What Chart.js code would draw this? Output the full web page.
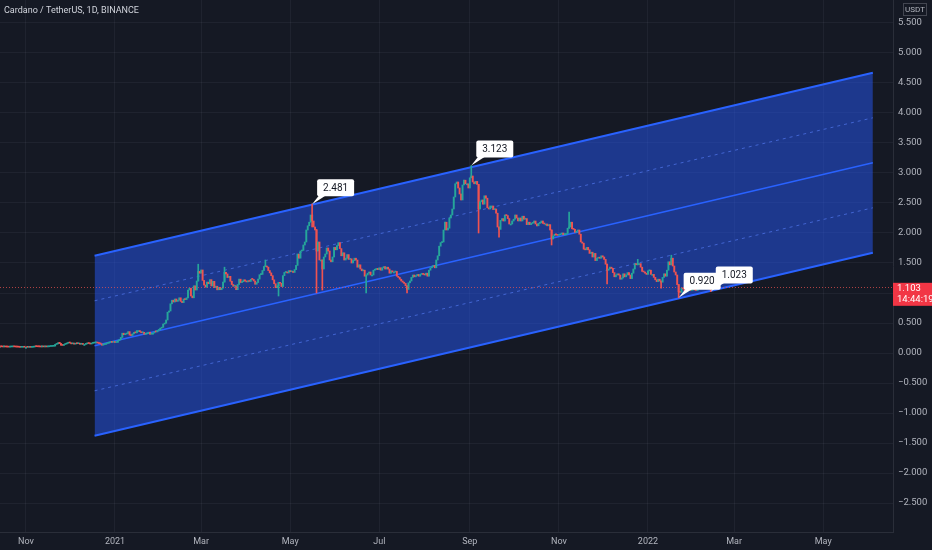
<!DOCTYPE html>
<html>
<head>
<meta charset="utf-8">
<script src="https://cdn.jsdelivr.net/npm/chart.js@4.4.0/dist/chart.umd.min.js"></script>
<style>
  html, body { margin: 0; padding: 0; background: #151924; }
</style>
</head>
<body>
<canvas id="chart" width="932" height="550"></canvas>
<script>
// days are counted from Jan 1 2021; first candle is Oct 14 2020
const startDay = -79;

// daily closes, ADA/USDT
const closes = [
  // Oct 2020 (from 14th)
  0.105,0.104,0.101,0.102,0.101,0.100,0.098,0.101,0.102,0.104,0.103,0.100,0.099,0.097,0.095,0.096,0.097,0.096,
  // Nov 2020
  0.096,0.095,0.097,0.094,0.096,0.100,0.107,0.106,0.104,0.103,0.101,0.104,0.102,0.104,0.102,0.104,0.109,0.110,0.112,0.115,
  0.143,0.152,0.171,0.160,0.129,0.126,0.142,0.151,0.162,0.168,
  // Dec 2020
  0.167,0.153,0.155,0.148,0.157,0.155,0.157,0.146,0.149,0.143,0.143,0.152,0.159,0.158,0.150,0.162,0.166,0.168,0.170,0.166,
  0.158,0.152,0.130,0.141,0.144,0.160,0.164,0.176,0.182,0.178,0.181,
  // Jan 2021
  0.175,0.178,0.206,0.224,0.259,0.330,0.305,0.316,0.323,0.356,0.298,0.291,0.320,0.344,0.336,0.374,0.374,0.354,0.338,0.345,
  0.311,0.319,0.326,0.347,0.312,0.314,0.334,0.354,0.351,0.376,0.386,
  // Feb 2021
  0.414,0.427,0.482,0.496,0.550,0.680,0.700,0.820,0.880,0.850,0.900,0.860,0.880,0.920,0.860,0.840,0.900,0.890,0.920,1.050,
  1.080,0.950,0.920,1.120,1.050,1.200,1.360,1.330,
  // Mar 2021
  1.384,1.210,1.133,1.098,1.181,1.154,1.223,1.118,1.195,1.090,1.113,1.053,1.095,1.055,1.081,1.183,1.345,1.318,1.258,1.278,
  1.196,1.141,1.112,1.120,1.055,1.142,1.231,1.175,1.188,1.220,1.200,
  // Apr 2021
  1.185,1.203,1.193,1.229,1.227,1.200,1.146,1.175,1.232,1.305,1.310,1.375,1.442,1.445,1.432,1.374,1.335,1.289,1.219,1.154,
  1.088,1.120,1.174,1.163,1.108,1.289,1.342,1.344,1.334,1.373,
  // May 2021
  1.354,1.360,1.343,1.390,1.460,1.650,1.580,1.700,1.710,1.800,1.850,2.050,2.120,2.180,2.300,2.200,2.100,2.050,1.700,1.850,
  1.550,1.550,1.400,1.600,1.650,1.750,1.700,1.550,1.520,1.600,1.760,
  // Jun 2021
  1.72,1.79,1.84,1.74,1.62,1.67,1.55,1.58,1.64,1.56,1.57,1.50,1.54,1.58,1.55,1.43,1.47,1.40,1.37,1.38,
  1.28,1.30,1.33,1.35,1.30,1.30,1.38,1.39,1.41,1.39,
  // Jul 2021
  1.42,1.38,1.42,1.44,1.40,1.43,1.40,1.33,1.37,1.35,1.35,1.36,1.28,1.26,1.23,1.20,1.18,1.16,1.12,1.06,
  1.17,1.20,1.26,1.30,1.27,1.29,1.31,1.28,1.31,1.32,1.31,
  // Aug 2021
  1.30,1.33,1.28,1.38,1.42,1.44,1.46,1.42,1.55,1.62,1.78,1.84,1.85,2.05,2.18,2.05,2.08,2.25,2.30,2.40,
  2.60,2.82,2.85,2.75,2.65,2.55,2.80,2.88,2.82,2.82,2.75,
  // Sep 2021
  2.92,2.95,2.85,2.82,2.86,2.81,2.40,2.52,2.55,2.48,2.62,2.58,2.42,2.40,2.45,2.45,2.39,2.40,2.33,2.10,
  2.06,2.21,2.24,2.20,2.30,2.29,2.24,2.15,2.15,2.20,
  // Oct 2021
  2.23,2.30,2.25,2.20,2.25,2.20,2.28,2.23,2.24,2.14,2.18,2.14,2.16,2.17,2.20,2.15,2.12,2.16,2.17,2.20,
  2.16,2.15,2.15,2.12,2.14,2.05,1.90,1.95,1.98,1.97,1.96,
  // Nov 2021
  1.97,1.98,2.00,1.97,1.99,1.99,2.08,2.10,2.18,2.07,2.06,2.01,2.03,2.05,1.98,1.85,1.83,1.73,1.72,1.76,
  1.72,1.66,1.68,1.60,1.66,1.54,1.58,1.59,1.58,1.62,
  // Dec 2021
  1.60,1.56,1.48,1.38,1.40,1.43,1.41,1.34,1.27,1.30,1.32,1.30,1.23,1.25,1.32,1.27,1.30,1.34,1.30,1.24,
  1.33,1.40,1.49,1.47,1.49,1.49,1.43,1.36,1.35,1.33,1.31,
  // Jan 2022
  1.37,1.38,1.31,1.31,1.26,1.22,1.19,1.23,1.20,1.18,1.26,1.32,1.28,1.38,1.52,1.47,1.58,1.45,1.35,1.30,
  1.14,1.02,1.01,1.08,1.07,1.04,1.02,1.06,1.05,1.04,1.05,
  // Feb 2022 (to 14th)
  1.06,1.05,1.04,1.09,1.12,1.14,1.15,1.12,1.13,1.11,1.08,1.07,1.06,1.103
];

// notable wicks (null = body edge)
const wickDays  = [-38,  57,   75,   103,  112,  135,   138,  142,  172,  200,  244,   249,  263,  299,  311,  337,  358,  374,  381,  386,   408];
const wickLows  = [null, null, null, null, 0.95, 2.10,  1.00, 1.05, 1.00, 1.00, null,  2.00, 1.93, 1.80, null, 1.15, null, 1.08, null, 0.920, 1.023];
const wickHighs = [0.176,1.48, 1.43, 1.55, null, 2.481, 2.06, null, null, null, 3.123, null, null, null, 2.35, null, 1.56, null, 1.63, null,  null];

const calloutDays = [135, 244, 386, 408];
const calloutValues = [2.481, 3.123, 0.920, 1.023];

// regression channel end points
const channelDays = [-14, 519];
const channelUpper = [1.62, 4.67];
const channelUpperDash = [0.87, 3.92];
const channelMid = [0.12, 3.17];
const channelLowerDash = [-0.63, 2.42];
const channelLower = [-1.38, 1.67];

const monthTicks = [-61, 0, 59, 120, 181, 243, 304, 365, 424, 485];
const monthLabels = ['Nov', '2021', 'Mar', 'May', 'Jul', 'Sep', 'Nov', '2022', 'Mar', 'May'];
const priceTicks = [-2.5, -2, -1.5, -1, -0.5, 0, 0.5, 1, 1.5, 2, 2.5, 3, 3.5, 4, 4.5, 5, 5.5];
const lastPrice = 1.103;

const UP = '#26a69a';
const DOWN = '#ef5350';
const BLUE = '#2962ff';
const FONT = 'Roboto';

let bodies = [];
let bodyColors = [];
for (let i = 0; i < closes.length; i++) {
    let open = i > 0 ? closes[i - 1] : closes[0];
    bodies.push({ x: startDay + i, y: [open, closes[i]] });
    bodyColors.push(closes[i] >= open ? UP : DOWN);
}

let wicks = [];
let wickColors = [];
for (let j = 0; j < wickDays.length; j++) {
    let i = wickDays[j] - startDay;
    let open = i > 0 ? closes[i - 1] : closes[0];
    let lo = wickLows[j] !== null ? wickLows[j] : Math.min(open, closes[i]);
    let hi = wickHighs[j] !== null ? wickHighs[j] : Math.max(open, closes[i]);
    wicks.push({ x: wickDays[j], y: [lo, hi] });
    wickColors.push(closes[i] >= open ? UP : DOWN);
}

function channelLine(vals) {
    return channelDays.map((d, k) => ({ x: d, y: vals[k] }));
}

const bgPlugin = {
    id: 'bg',
    beforeDraw(chart) {
        const ctx = chart.ctx;
        ctx.save();
        ctx.fillStyle = '#151924';
        ctx.fillRect(0, 0, chart.width, chart.height);
        ctx.restore();
    }
};

function roundRect(ctx, x, y, w, h, r) {
    ctx.beginPath();
    ctx.moveTo(x + r, y);
    ctx.lineTo(x + w - r, y);
    ctx.quadraticCurveTo(x + w, y, x + w, y + r);
    ctx.lineTo(x + w, y + h - r);
    ctx.quadraticCurveTo(x + w, y + h, x + w - r, y + h);
    ctx.lineTo(x + r, y + h);
    ctx.quadraticCurveTo(x, y + h, x, y + h - r);
    ctx.lineTo(x, y + r);
    ctx.quadraticCurveTo(x, y, x + r, y);
    ctx.closePath();
}

const overlayPlugin = {
    id: 'overlay',
    afterDatasetsDraw(chart) {
        const ctx = chart.ctx;
        const xs = chart.scales.x;
        const ys = chart.scales.y;
        const area = chart.chartArea;
        ctx.save();

        // last price line
        let py = Math.round(ys.getPixelForValue(lastPrice)) + 0.5;
        ctx.strokeStyle = 'rgba(239, 83, 80, 0.7)';
        ctx.lineWidth = 1;
        ctx.setLineDash([1, 2]);
        ctx.beginPath();
        ctx.moveTo(area.left, py);
        ctx.lineTo(area.right, py);
        ctx.stroke();
        ctx.setLineDash([]);

        // callouts
        ctx.font = '10px ' + FONT;
        ctx.textAlign = 'center';
        ctx.textBaseline = 'middle';
        for (let k = 0; k < calloutDays.length; k++) {
            let px = xs.getPixelForValue(calloutDays[k]);
            let cy = ys.getPixelForValue(calloutValues[k]);
            let bx = px + 5, bw = 37, bh = 17, by = cy - 8 - bh;
            ctx.fillStyle = '#ffffff';
            ctx.beginPath();
            ctx.moveTo(px, cy);
            ctx.lineTo(bx + 2, by + bh - 1);
            ctx.lineTo(bx + 9, by + bh - 1);
            ctx.closePath();
            ctx.fill();
            roundRect(ctx, bx, by, bw, bh, 2);
            ctx.fill();
            ctx.fillStyle = '#131722';
            ctx.fillText(calloutValues[k].toFixed(3), bx + bw / 2, by + bh / 2 + 0.5);
        }
        ctx.restore();
    },
    afterDraw(chart) {
        const ctx = chart.ctx;
        const ys = chart.scales.y;
        const area = chart.chartArea;
        ctx.save();

        // title
        ctx.font = '9px ' + FONT;
        ctx.fillStyle = '#d1d4dc';
        ctx.textAlign = 'left';
        ctx.textBaseline = 'middle';
        ctx.fillText('Cardano / TetherUS, 1D, BINANCE', 4, 11);

        // currency box
        ctx.strokeStyle = '#434651';
        ctx.lineWidth = 1;
        ctx.strokeRect(903.5, 3.5, 23, 12);
        ctx.font = '8px ' + FONT;
        ctx.fillStyle = '#b2b5be';
        ctx.textAlign = 'center';
        ctx.fillText('USDT', 915, 9.8);

        // last price label
        let py = ys.getPixelForValue(lastPrice);
        ctx.fillStyle = '#f23645';
        ctx.fillRect(area.right, py - 4, chart.width - area.right, 23);
        ctx.fillStyle = '#ffffff';
        ctx.textAlign = 'left';
        ctx.font = '9.5px ' + FONT;
        ctx.fillText(lastPrice.toFixed(3), area.right + 4, py + 2);
        ctx.fillText('14:44:19', area.right + 4, py + 12.5);
        ctx.restore();
    }
};

const ctx = document.getElementById('chart').getContext('2d');
const chart = new Chart(ctx, {
    type: 'bar',
    data: {
        datasets: [
            {
                type: 'line',
                data: channelLine(channelUpper),
                borderColor: BLUE,
                borderWidth: 2,
                backgroundColor: 'rgba(38, 88, 245, 0.5)',
                fill: 1,
                pointRadius: 0,
                order: 10
            },
            {
                type: 'line',
                data: channelLine(channelLower),
                borderColor: BLUE,
                borderWidth: 2,
                fill: false,
                pointRadius: 0,
                order: 9
            },
            {
                type: 'line',
                data: channelLine(channelMid),
                borderColor: BLUE,
                borderWidth: 1.5,
                fill: false,
                pointRadius: 0,
                order: 8
            },
            {
                type: 'line',
                data: channelLine(channelUpperDash),
                borderColor: 'rgba(90, 130, 255, 0.6)',
                borderWidth: 1,
                borderDash: [3, 4],
                fill: false,
                pointRadius: 0,
                order: 8
            },
            {
                type: 'line',
                data: channelLine(channelLowerDash),
                borderColor: 'rgba(90, 130, 255, 0.6)',
                borderWidth: 1,
                borderDash: [3, 4],
                fill: false,
                pointRadius: 0,
                order: 8
            },
            {
                data: wicks,
                backgroundColor: wickColors,
                barThickness: 1,
                grouped: false,
                order: 2
            },
            {
                data: bodies,
                backgroundColor: bodyColors,
                barThickness: 1.3,
                minBarLength: 1,
                grouped: false,
                order: 1
            }
        ]
    },
    options: {
        responsive: false,
        animation: false,
        devicePixelRatio: 1,
        layout: { padding: 0 },
        plugins: {
            legend: { display: false },
            tooltip: { enabled: false }
        },
        scales: {
            x: {
                type: 'linear',
                min: -78.75,
                max: 532.8,
                offset: false,
                afterBuildTicks: function(scale) {
                    scale.ticks = monthTicks.map(v => ({ value: v }));
                },
                afterFit: function(scale) {
                    scale.height = 18;
                    scale.paddingLeft = 0;
                    scale.paddingRight = 0;
                },
                ticks: {
                    autoSkip: false,
                    maxRotation: 0,
                    padding: 4,
                    color: '#b2b5be',
                    font: { family: FONT, size: 9 },
                    callback: function(value) {
                        return monthLabels[monthTicks.indexOf(value)];
                    }
                },
                grid: { color: 'rgba(240, 243, 250, 0.05)', drawTicks: false, offset: false },
                border: { color: '#2a2e39' }
            },
            y: {
                position: 'right',
                min: -2.983,
                max: 5.883,
                afterBuildTicks: function(scale) {
                    scale.ticks = priceTicks.map(v => ({ value: v }));
                },
                afterFit: function(scale) {
                    scale.width = 39;
                    scale.paddingTop = 0;
                    scale.paddingBottom = 0;
                },
                ticks: {
                    padding: 5,
                    color: '#b2b5be',
                    font: { family: FONT, size: 9.5 },
                    callback: function(value) {
                        return (value < 0 ? '\u2212' : '') + Math.abs(value).toFixed(3);
                    }
                },
                grid: { color: 'rgba(240, 243, 250, 0.05)', drawTicks: false },
                border: { color: '#2a2e39' }
            }
        }
    },
    plugins: [bgPlugin, overlayPlugin]
});
</script>
</body>
</html>
